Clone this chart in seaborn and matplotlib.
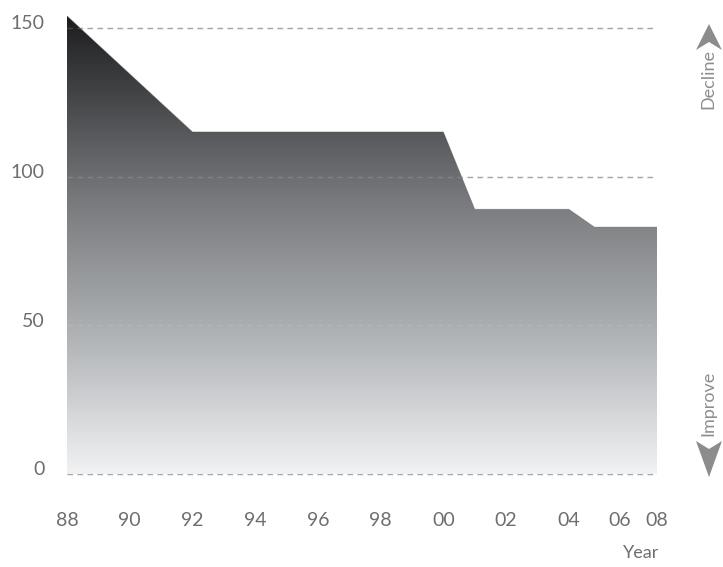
import numpy as np
import pandas as pd
import seaborn as sns
import matplotlib
matplotlib.use("Agg")
import matplotlib.pyplot as plt
from matplotlib.colors import LinearSegmentedColormap
from matplotlib.patches import Polygon
from matplotlib.transforms import ScaledTranslation

# Series: index level by year
years = [1988, 1992, 2000, 2001, 2004, 2005, 2008]
values = [154, 115, 115, 89, 89, 83, 83]

x_tick_years = list(range(1988, 2009, 2))
x_tick_labels = ["88", "90", "92", "94", "96", "98", "00", "02", "04", "06", "08"]
y_ticks = [0, 50, 100, 150]
y_tick_labels = ["0", "50", "100", "150"]

df = pd.DataFrame({"year": years, "value": values})

sns.set_theme(style="white")
plt.rcParams["font.family"] = ["Lato", "DejaVu Sans"]

W, H = 723, 567
fig = plt.figure(figsize=(W / 100, H / 100), dpi=100)
ax = fig.add_axes([67 / W, 1 - 474 / H, (657 - 67) / W, (474 - 10) / H])

# Horizontal axis spacing narrows over the last few years
knot_years = np.array([1988, 2004, 2006, 2008], dtype=float)
knot_pos = np.array([68, 569, 620, 657], dtype=float)


def fwd(v):
    return np.interp(v, knot_years, knot_pos)


def inv(v):
    return np.interp(v, knot_pos, knot_years)


ax.set_xscale("function", functions=(fwd, inv))

sns.lineplot(data=df, x="year", y="value", ax=ax, color="#4a4b4d",
             linewidth=0.6, alpha=0.4, zorder=3)

ax.set_xlim(1988, 2008)
ax.set_ylim(0, 156)

# Vertical grey gradient, clipped to the area under the series
fill = ax.fill_between(df["year"], df["value"], 0, color="none", linewidth=0)
cmap = LinearSegmentedColormap.from_list(
    "greys",
    [(0.0, "#f0f2f3"), (0.33, "#a9acaf"), (0.58, "#7a7c7f"),
     (0.74, "#55575a"), (1.0, "#1a1a1b")],
)
grad = np.linspace(0, 1, 512).reshape(-1, 1)
img = ax.imshow(grad, cmap=cmap, aspect="auto", origin="lower",
                extent=[0, 1, 0, 1], transform=ax.transAxes, zorder=2,
                interpolation="bilinear")
img.set_clip_path(fill.get_paths()[0], ax.transData)

# Dashed reference lines: full strength on white, faint across the area
for yv in y_ticks:
    ax.axhline(yv, color="#9a9a9a", linewidth=1.0,
               linestyle=(0, (4, 3.2)), clip_on=False, zorder=1)
    ax.axhline(yv, color="#e0e0e0", alpha=0.18, linewidth=1.0,
               linestyle=(0, (4, 3.2)), clip_on=False, zorder=4)

for s in ax.spines.values():
    s.set_visible(False)

ax.set_xticks(x_tick_years)
ax.set_xticklabels(x_tick_labels)
ax.set_yticks(y_ticks)
ax.set_yticklabels(y_tick_labels)
ax.tick_params(axis="both", length=0, colors="#6e6e6e", labelsize=14)
ax.tick_params(axis="x", pad=27)
ax.tick_params(axis="y", pad=16)
shift = ScaledTranslation(0, 4 / 72, fig.dpi_scale_trans)
for lab in ax.get_yticklabels():
    lab.set_transform(lab.get_transform() + shift)

ax.set_xlabel("")
ax.set_ylabel("")
ax.grid(False)

fig.text(641 / W, 1 - 553 / H, "Year", ha="center", va="center",
         fontsize=13, color="#6e6e6e")

# Direction markers on the right
side_x = 708
fig.text(side_x / W, 1 - 79 / H, "Decline", rotation=90, ha="center",
         va="center", fontsize=13, color="#8e8e8e")
fig.text(side_x / W, 1 - 403 / H, "Improve", rotation=90, ha="center",
         va="center", fontsize=13, color="#8e8e8e")


def px(x, y):
    return (x / W, 1 - y / H)


up = Polygon([px(709, 24), px(722, 50), px(709, 42), px(696, 50)],
             closed=True, transform=fig.transFigure, facecolor="#8c8c8c",
             edgecolor="none")
down = Polygon([px(696, 441), px(709, 449), px(722, 441), px(709, 477)],
               closed=True, transform=fig.transFigure, facecolor="#8c8c8c",
               edgecolor="none")
fig.patches.extend([up, down])

fig.savefig("out.png", dpi=100, facecolor="white")
